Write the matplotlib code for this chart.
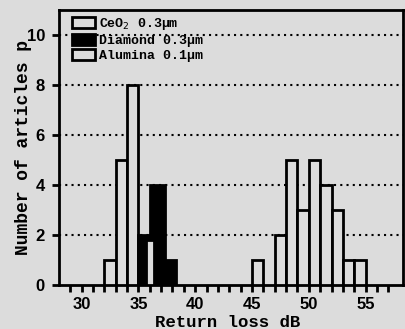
import matplotlib
matplotlib.use("Agg")
import numpy as np
import matplotlib.pyplot as plt
from matplotlib.patches import Patch

# data (bin edges in dB, counts)
ceo2_edges = [32, 33, 34, 35]
ceo2_n = [1, 5, 8]
diamond_edges = [35, 36, 37.35, 38.35]
diamond_n = [2, 4, 1]
ceo2_small_edges = [35.7, 36.35]
ceo2_small_n = [1.8]
alumina_edges = [45, 46, 47, 48, 49, 50, 51, 52, 53, 54, 55]
alumina_n = [1, 0, 2, 5, 3, 5, 4, 3, 1, 1]

labels = ["CeO$_2$ 0.3\u00b5m", "Diamond 0.3\u00b5m", "Alumina 0.1\u00b5m"]
xticks = [30, 35, 40, 45, 50, 55]
yticks = [0, 2, 4, 6, 8, 10]

bg = "#dcdcdc"
mono = "Liberation Mono"

fig = plt.figure(figsize=(4.06, 3.29), dpi=100, facecolor=bg)
ax = fig.add_axes([0.145, 0.134, 0.848, 0.836], facecolor=bg)

for y in yticks[1:]:
    ax.axhline(y, color="black", lw=1.5, ls=(0, (1, 2)), zorder=1)


def hist_bars(edges, counts, color):
    edges = np.asarray(edges, dtype=float)
    counts = np.asarray(counts, dtype=float)
    keep = counts > 0
    ax.bar(edges[:-1][keep], counts[keep], width=np.diff(edges)[keep], align="edge",
           color=color, edgecolor="black", linewidth=2, zorder=3)


hist_bars(ceo2_edges, ceo2_n, bg)
hist_bars(diamond_edges, diamond_n, "black")
hist_bars(ceo2_small_edges, ceo2_small_n, bg)
hist_bars(alumina_edges, alumina_n, bg)

ax.set_xlim(28, 58.3)
ax.set_ylim(0, 11)
ax.set_xticks(xticks)
ax.set_xticks(range(29, 58), minor=True)
ax.set_yticks(yticks)
ax.tick_params(axis="both", which="major", direction="out", length=5, width=2,
               labelsize=12)
ax.tick_params(axis="x", which="major", pad=4)
ax.tick_params(axis="y", which="major", pad=5)
ax.tick_params(axis="x", which="minor", direction="out", length=5, width=2)
for lab in ax.get_xticklabels() + ax.get_yticklabels():
    lab.set_fontweight("bold")
    lab.set_family("Liberation Sans")
for s in ax.spines.values():
    s.set_linewidth(2)

ax.set_xlabel("Return loss dB", family=mono, fontweight="bold", fontsize=12.5)
ax.set_ylabel("Number of articles p", family=mono, fontweight="bold", fontsize=13)
ax.xaxis.set_label_coords(0.49, -0.108)
ax.yaxis.set_label_coords(-0.078, 0.5)

handles = [Patch(facecolor=bg, edgecolor="black", lw=2),
           Patch(facecolor="black", edgecolor="black", lw=2),
           Patch(facecolor=bg, edgecolor="black", lw=2)]
ax.legend(handles, labels, loc="upper left", bbox_to_anchor=(0.02, 1.0), frameon=False,
          prop=dict(family=mono, weight="bold", size=9.5),
          handlelength=1.75, handleheight=0.9, handletextpad=0.3,
          labelspacing=0.15, borderaxespad=0.2, borderpad=0.3)

fig.savefig("out.png", dpi=100, facecolor=bg)
